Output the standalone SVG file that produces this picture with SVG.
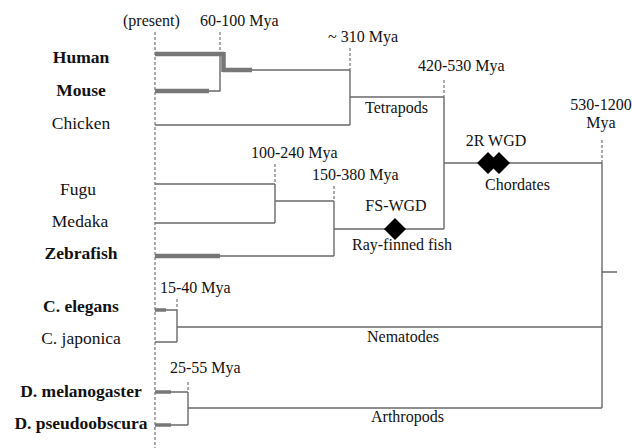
<svg xmlns="http://www.w3.org/2000/svg" width="632" height="448" viewBox="0 0 632 448" font-family="'Liberation Serif', 'DejaVu Serif', 'Times New Roman', serif">
<style>
text{font-family:'Liberation Serif','DejaVu Serif','Times New Roman',serif;fill:#111}
.sp{font-size:17.5px;text-anchor:middle}
.b{font-weight:bold}
.an{font-size:16px}
.mid{text-anchor:middle}
.br{fill:none;stroke:#6a6a6a;stroke-width:1.4}
.thick{fill:none;stroke:#777;stroke-width:4.5}
.dash{fill:none;stroke:#555;stroke-width:1;stroke-dasharray:3 2}
.dia{fill:#000}
</style>
<rect width="632" height="448" fill="#fff"/>
<g id="labels-species">
<g id="human"><text class="sp b" x="81" y="63">Human</text></g>
<g id="mouse"><text class="sp b" x="81" y="96">Mouse</text></g>
<g id="chicken"><text class="sp" x="81" y="129">Chicken</text></g>
<g id="fugu"><text class="sp" x="78" y="195">Fugu</text></g>
<g id="medaka"><text class="sp" x="80" y="227">Medaka</text></g>
<g id="zebrafish"><text class="sp b" x="81" y="259">Zebrafish</text></g>
<g id="celegans"><text class="sp b" x="81" y="312">C. elegans</text></g>
<g id="cjaponica"><text class="sp" x="81" y="344">C. japonica</text></g>
<g id="dmel"><text class="sp b" x="81" y="397">D. melanogaster</text></g>
<g id="dpse"><text class="sp b" x="81" y="429">D. pseudoobscura</text></g>
</g>
<g id="time-labels" class="an">
<text x="123" y="26">(present)</text>
<text x="200" y="26">60-100 Mya</text>
<text x="328" y="42">~ 310 Mya</text>
<text x="418" y="71">420-530 Mya</text>
<text class="mid" x="601" y="110">530-1200</text>
<text class="mid" x="601" y="128">Mya</text>
<text x="251" y="158">100-240 Mya</text>
<text x="312" y="180">150-380 Mya</text>
<text x="160" y="293">15-40 Mya</text>
<text x="170" y="373">25-55 Mya</text>
</g>
<g id="clade-labels" class="an">
<text x="365" y="113">Tetrapods</text>
<text class="mid" x="496" y="146">2R WGD</text>
<text x="485" y="190">Chordates</text>
<text class="mid" x="396" y="211">FS-WGD</text>
<text x="352" y="250">Ray-finned fish</text>
<text x="367" y="342">Nematodes</text>
<text x="371" y="422">Arthropods</text>
</g>
<g id="connectors">
<path class="dash" d="M155 32V448M220 32V53M350 48V70M444 80V97M602 140V163M275 164V184M334 186V201M177 299V310M188 382V392"/>
<path class="br" d="M252 70H350M220 54V91H209M155 125H350M350 70V125M350 97H444M444 97V229M444 163H602M602 163V408M602 272H617M155 184H275M155 223H275M275 184V223M275 201H334M220 256H334M334 201V256M334 229H444M166 310H177M155 342H177M177 310V342M177 327H602M171 392H188M171 425H188M188 392V425M188 408H602"/>
<path class="thick" d="M155 54H224M223.5 52V72M223 70H252M155 91H209M155 256H220"/>
<path class="thick" style="stroke-width:3.5" d="M155 310H166M155 392H171M155 425H171"/>
<path class="dia" d="M488 152L499 163L488 174L477 163ZM499 152L510 163L499 174L488 163ZM395 218L406 229L395 240L384 229Z"/>
</g>
</svg>
